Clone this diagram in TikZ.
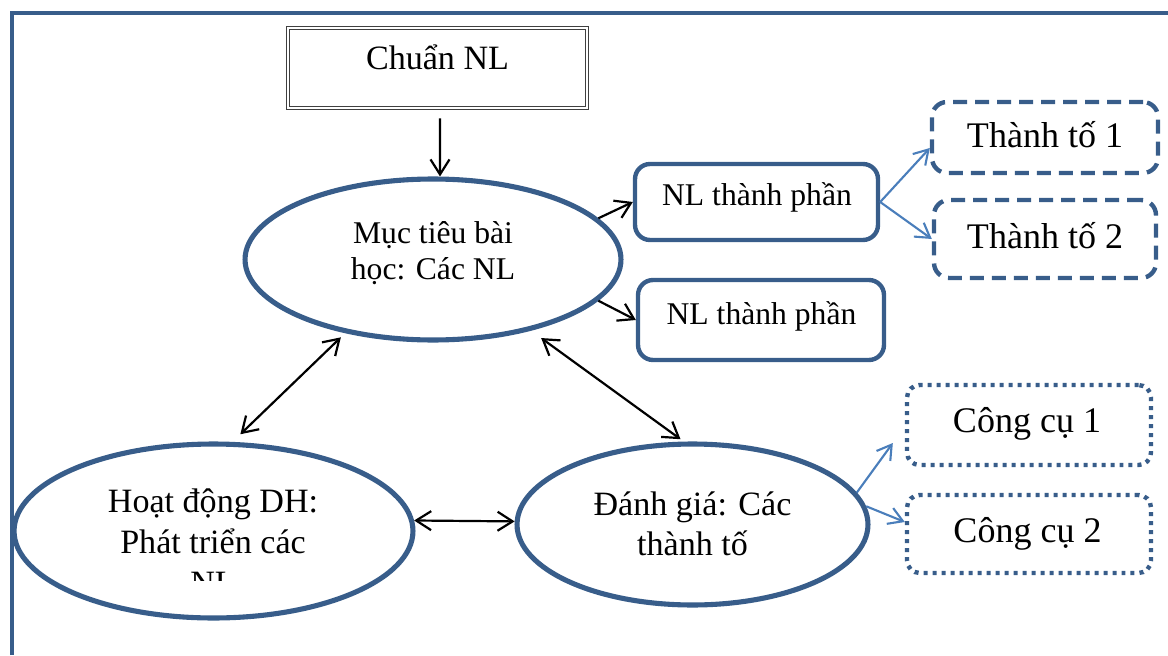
\documentclass[tikz,border=0pt]{standalone}
\usepackage{fontspec}
\setmainfont{Liberation Serif}
\usetikzlibrary{arrows.meta,shapes.geometric}
\definecolor{outline}{RGB}{56,93,138}
\definecolor{linkblue}{RGB}{74,126,187}

\begin{document}
\begin{tikzpicture}[x=0.02cm,y=-0.02cm,
  ell/.style={ellipse, draw=outline, line width=2.9pt, fill=white, inner sep=0pt},
  rbox/.style={rectangle, rounded corners=0.3cm, draw=outline, line width=2.5pt, inner sep=0pt},
  dashbox/.style={rbox, dash pattern=on 0.28cm off 0.16cm},
  dotbox/.style={rbox, rounded corners=0.25cm, dash pattern=on 0.08cm off 0.1cm},
  chuanbox/.style={rectangle, draw=black!75, line width=0.5pt, double=white, double distance=1pt, inner sep=0pt},
  lbl/.style={anchor=base, inner sep=0pt},
  fa/.style={font=\fontsize{18pt}{21pt}\selectfont},
  fb/.style={font=\fontsize{19.4pt}{23pt}\selectfont},
  fc/.style={font=\fontsize{20.5pt}{24pt}\selectfont},
  arr/.style={draw=black, line width=1.25pt, -{Straight Barb[length=0.3cm,width=0.38cm]}},
  dbl/.style={draw=black, line width=1.25pt, {Straight Barb[length=0.3cm,width=0.38cm]}-{Straight Barb[length=0.3cm,width=0.38cm]}},
  barr/.style={draw=linkblue, line width=1.2pt, -{Straight Barb[length=0.28cm,width=0.34cm]}}
]
\useasboundingbox (0,0) rectangle (1168,655);

% page frame
\draw[outline, line width=2.4pt] (12,655) -- (12,13) -- (1168,13);

% main shapes
\node[chuanbox, minimum width=5.98cm, minimum height=1.6cm] (chuan) at (437.5,68) {};
\node[ell, minimum width=7.52cm, minimum height=3.22cm] (muc) at (433,259.5) {};
\node[ell, minimum width=7.98cm, minimum height=3.48cm] (hoat) at (213.5,531) {};
\node[ell, minimum width=7.02cm, minimum height=3.22cm] (dg) at (692.5,524.5) {};

\node[rbox, minimum width=4.86cm, minimum height=1.52cm] (nl1) at (756.5,202) {};
\node[rbox, minimum width=4.92cm, minimum height=1.6cm] (nl2) at (761,320) {};
\node[dashbox, minimum width=4.52cm, minimum height=1.42cm] (tt1) at (1045,137.5) {};
\node[dashbox, minimum width=4.44cm, minimum height=1.56cm] (tt2) at (1045,239) {};
\node[dotbox, minimum width=4.88cm, minimum height=1.6cm] (cc1) at (1029,425) {};
\node[dotbox, minimum width=4.88cm, minimum height=1.56cm] (cc2) at (1029,534) {};

% texts
\node[lbl, fb] (chuan-t) at (437.5,70) {Chuẩn NL};
\node[lbl, fa] (muc-t1) at (433,243) {Mục tiêu bài};
\node[lbl, fa] (muc-t2) at (433,279) {học: Các NL};
\node[lbl, fb] (hoat-t1) at (213,512) {Hoạt động DH:};
\node[lbl, fb] (hoat-t2) at (213,553) {Phát triển các};
\begin{scope}
  \clip (0,0) rectangle (1168,580);
  \node[lbl, fb] (hoat-t3) at (213,594) {NL};
\end{scope}
\node[lbl, fb] (dg-t1) at (692.5,515) {Đánh giá: Các};
\node[lbl, fb] (dg-t2) at (692.5,555) {thành tố};
\node[lbl, fa] (nl1-t) at (757,205) {NL thành phần};
\node[lbl, fa] (nl2-t) at (761.5,324) {NL thành phần};
\node[lbl, fc] (tt1-t) at (1045,148) {Thành tố 1};
\node[lbl, fc] (tt2-t) at (1045,248) {Thành tố 2};
\node[lbl, fc] (cc1-t) at (1027,432) {Công cụ 1};
\node[lbl, fc] (cc2-t) at (1027.5,542) {Công cụ 2};

% connectors
\draw[arr, shorten <=0.2cm] ([xshift=0.05cm]chuan.south) -- ([xshift=0.14cm]muc.north);
\draw[arr] (muc.14) -- (nl1.west);
\draw[arr] (muc.-14) -- (nl2.west);
\draw[dbl, shorten <=0.12cm, shorten >=0.22cm] (muc.220) -- (hoat.78);
\draw[dbl, shorten <=0.25cm, shorten >=0.08cm] (muc.-36) -- (dg.96);
\draw[dbl] (hoat.3) -- (dg.179);

\draw[barr] (nl1.east) -- ([yshift=-0.21cm]tt1.west);
\draw[barr] (nl1.east) -- (tt2.west);
\draw[barr] (dg.11) -- ([xshift=-0.24cm,yshift=-0.36cm]cc1.west);
\draw[barr] (dg.6) -- ([yshift=0.24cm]cc2.west);
\end{tikzpicture}
\end{document}
